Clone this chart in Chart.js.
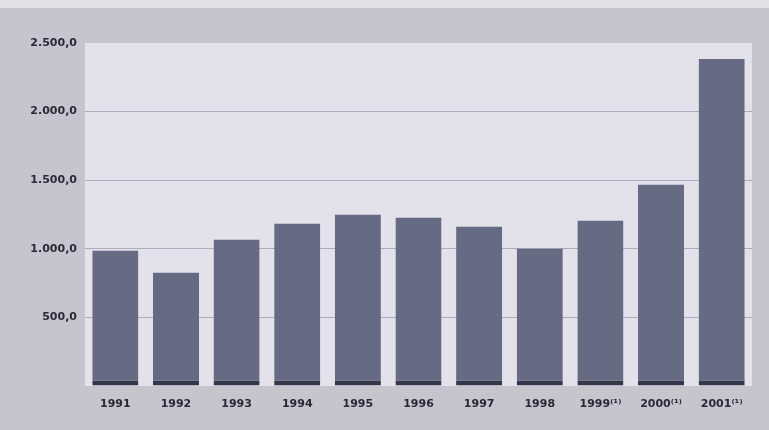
<!DOCTYPE html>
<html>
<head>
<meta charset="utf-8">
<script src="https://cdn.jsdelivr.net/npm/chart.js@4"></script>
<style>
  html, body { margin: 0; padding: 0; background: #c6c4cc; }
  #wrap { width: 769px; height: 430px; }
</style>
</head>
<body>
<div id="wrap"><canvas id="grafico"></canvas></div>
<script>
const anios = ['1991', '1992', '1993', '1994', '1995', '1996', '1997', '1998', '1999⁽¹⁾', '2000⁽¹⁾', '2001⁽¹⁾'];
const valores = [988, 828, 1068, 1185, 1250, 1228, 1163, 1003, 1206, 1468, 2384];
const ticksY = [0, 500, 1000, 1500, 2000, 2500];

// fondo gris del lienzo, franja clara arriba y zona del grafico mas clara
const fondo = {
    id: 'fondo',
    beforeDraw(chart) {
        const { ctx, chartArea: a } = chart;
        ctx.save();
        ctx.fillStyle = '#c6c4cc';
        ctx.fillRect(0, 0, chart.width, chart.height);
        ctx.fillStyle = '#e2e1e6';
        ctx.fillRect(0, 0, chart.width, 8);
        ctx.fillStyle = '#e3e1ea';
        ctx.fillRect(a.left, a.top, a.right - a.left, a.bottom - a.top);
        ctx.restore();
    }
};

const fmt = v => v.toLocaleString('de-DE', { minimumFractionDigits: 1, maximumFractionDigits: 1 });
const fuente = { family: 'DejaVu Sans', size: 11, weight: 'bold' };

new Chart(document.getElementById('grafico'), {
    type: 'bar',
    data: {
        labels: anios,
        datasets: [{
            data: valores,
            backgroundColor: '#666a82',
            borderColor: '#36364a',
            borderWidth: { top: 0, left: 0, right: 0, bottom: 5 },
            borderSkipped: false,
            categoryPercentage: 1,
            barPercentage: 0.76
        }]
    },
    options: {
        responsive: true,
        maintainAspectRatio: false,
        animation: false,
        layout: { padding: { top: 43, right: 17, bottom: 0, left: 0 } },
        plugins: { legend: { display: false }, tooltip: { enabled: false } },
        scales: {
            x: {
                grid: { display: false, drawTicks: false },
                border: { display: false },
                ticks: { padding: 12, color: '#2a2a36', font: fuente },
                afterFit: s => { s.height = 44; }
            },
            y: {
                min: 0,
                max: 2500,
                afterBuildTicks: s => { s.ticks = ticksY.map(v => ({ value: v })); },
                grid: {
                    drawTicks: false,
                    color: c => (c.tick.value === 0 || c.tick.value === 2500) ? 'rgba(0,0,0,0)' : 'rgba(110,108,122,0.45)',
                    lineWidth: 1
                },
                border: { display: false },
                ticks: {
                    padding: 8,
                    color: '#2a2a36',
                    font: fuente,
                    callback: v => v === 0 ? '' : fmt(v)
                },
                afterFit: s => { s.width = 85; }
            }
        }
    },
    plugins: [fondo]
});
</script>
</body>
</html>
